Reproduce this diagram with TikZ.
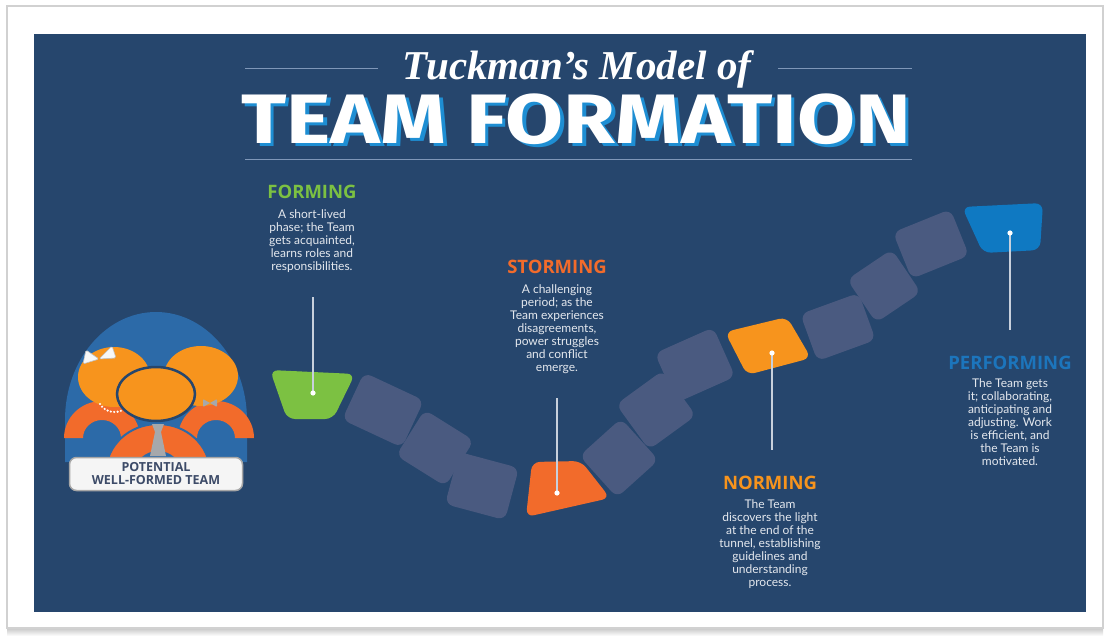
\documentclass[tikz,border=0pt]{standalone}
\usepackage{fontspec}
\setmainfont{Lato}
\newfontfamily\headfont{Open Sans}
\newfontfamily\titlefont{Fira Sans}
\newfontfamily\tuckfont{Liberation Serif}
\definecolor{panel}{HTML}{26466D}
\definecolor{tilegray}{HTML}{4A5A80}
\definecolor{formgreen}{HTML}{7CC142}
\definecolor{stormorange}{HTML}{F26B2B}
\definecolor{normorange}{HTML}{F7941D}
\definecolor{perfblue}{HTML}{1C75BC}
\definecolor{tileblue}{HTML}{0F79C2}
\definecolor{domeblue}{HTML}{2C6AA8}
\definecolor{headorange}{HTML}{F7941D}
\definecolor{bodyorange}{HTML}{F26B2B}
\definecolor{leaderline}{HTML}{C8D0DC}
\definecolor{bodytext}{HTML}{E4E8EE}
\definecolor{rulecolor}{HTML}{7F97B8}
\definecolor{shadowblue}{HTML}{1E8ED3}
\definecolor{tiegray}{HTML}{A6A8AB}
\definecolor{labeltext}{HTML}{3D4B68}
% white text with an offset blue copy behind it
\newcommand{\shadowtext}[1]{\makebox[0pt][l]{\hspace{3pt}\raisebox{-3pt}{\color{shadowblue}#1}}#1}

\begin{document}
\begin{tikzpicture}[x=1pt,y=-1pt,
    tile/.style={fill=tilegray, rounded corners=8pt},
    heading/.style={font=\headfont\bfseries\fontsize{18.5}{20}\selectfont, inner sep=0pt},
    blurb/.style={font=\fontsize{12}{13}\selectfont, text=bodytext, align=center, inner sep=0pt, anchor=north},
    leader/.style={draw=leaderline, line width=1.3pt},
    arch/.style={fill=bodyorange},
    bigtitle/.style={font=\titlefont\bfseries\fontsize{70}{70}\selectfont, xscale=1.2}]
  \useasboundingbox (0,0) rectangle (1110,636);
  % page and frame
  \fill[white] (0,0) rectangle (1110,636);
  \shade[top color=black!22, bottom color=white] (7,628) rectangle (1103,636);
  \draw[black!18, line width=1.2pt] (7,6) rectangle (1103,628);
  \fill[panel] (34,34) rectangle (1086,612);

  % title
  \draw[rulecolor, line width=1pt] (245,69) -- (378,69);
  \draw[rulecolor, line width=1pt] (778,69) -- (912,69);
  \draw[rulecolor, line width=1pt] (245,160) -- (912,160);
  \node[font=\tuckfont\bfseries\itshape\fontsize{41}{42}\selectfont, text=white] (subtitle) at (577,69) {Tuckman’s Model of};
  \node[bigtitle, text=white] (title) at (576,121) {\shadowtext{TEAM FORMATION}};

  % the path of tiles
  \foreach \cx/\cy/\ang/\hl/\ht in {383/410/-25/33/26, 435/448/-32/29/27, 482/486/-15/31/27,
      619/458/42/28/28, 656/410/36/29/28, 695/365/24/32/27,
      838/327/20/31/25, 884/286/34/27/26, 931/244/22/31/25}
    \fill[tile, shift={(\cx,\cy)}, rotate=\ang] (-\hl,-\ht) rectangle (\hl,\ht);
  \fill[tile, fill=formgreen] (270,370) -- (355,374) -- (333,419) -- (287,419) -- cycle;
  \fill[tile, fill=stormorange] (532,462) -- (581,461) -- (610,498) -- (526,517) -- cycle;
  \fill[tile, fill=normorange] (725,332) -- (787,317) -- (811,358) -- (747,375) -- cycle;
  \fill[tile, fill=tileblue] (962,207) -- (1043,203) -- (1040,250) -- (983,253) -- cycle;

  % stages
  \coordinate (formdot) at (313,393);
  \coordinate (formtop) at (313,297);
  \coordinate (stormdot) at (557,493);
  \coordinate (stormtop) at (557,398);
  \coordinate (normdot) at (772,353);
  \coordinate (normend) at (772,450);
  \coordinate (perfdot) at (1010,233);
  \coordinate (perfend) at (1010,330);
  \draw[leader] (formtop) -- (formdot);
  \draw[leader] (stormtop) -- (stormdot);
  \draw[leader] (normdot) -- (normend);
  \draw[leader] (perfdot) -- (perfend);
  \foreach \d in {formdot,stormdot,normdot,perfdot}
    \fill[white] (\d) circle (2.6pt);

  \node[heading, text=formgreen] (formhead) at (312,192) {FORMING};
  \node[blurb] (formtext) at (312,209) {A short-lived\\phase; the Team\\gets acquainted,\\learns roles and\\responsibilities.};
  \node[heading, text=stormorange] (stormhead) at (557,267) {STORMING};
  \node[blurb] (stormtext) at (557,284) {A challenging\\period; as the\\Team experiences\\disagreements,\\power struggles\\and conflict\\emerge.};
  \node[heading, text=normorange] (normhead) at (770,483) {NORMING};
  \node[blurb] (normtext) at (770,499) {The Team\\discovers the light\\at the end of the\\tunnel, establishing\\guidelines and\\understanding\\process.};
  \node[heading, text=perfblue] (perfhead) at (1010,363) {PERFORMING};
  \node[blurb] (perftext) at (1010,378) {The Team gets\\it; collaborating,\\anticipating and\\adjusting. Work\\is efficient, and\\the Team is\\motivated.};

  % the team
  \fill[domeblue] (65,462) -- (65,420) .. controls (65,360) and (106,312) .. (156,312)
    .. controls (206,312) and (247,360) .. (247,420) -- (247,462) -- cycle;
  \fill[arch] (64,438) arc[start angle=180, end angle=360, x radius=38, y radius=37]
    -- (121,438) arc[start angle=360, end angle=180, x radius=19, y radius=18] -- cycle;
  \fill[arch] (178,438) arc[start angle=180, end angle=360, x radius=38, y radius=37]
    -- (235,438) arc[start angle=360, end angle=180, x radius=19, y radius=18] -- cycle;
  \fill[headorange] (114,377) ellipse[x radius=36, y radius=30];
  \fill[headorange] (201,376) ellipse[x radius=37, y radius=30];
  \filldraw[arch, draw=domeblue, line width=2pt] (106,472) arc[start angle=180, end angle=360, x radius=52, y radius=48]
    -- (180,472) arc[start angle=360, end angle=180, x radius=22, y radius=20] -- cycle;
  \filldraw[fill=headorange, draw=panel, line width=2.5pt] (156,394) ellipse[x radius=39, y radius=27];
  % bow, pearls and ties
  \filldraw[fill=black!3, draw=black!25, line width=0.6pt, rounded corners=1.5pt]
    (99,359) -- (83,364) -- (86,350) -- cycle (99,359) -- (112,346) -- (116,358) -- cycle;
  \draw[white, line width=2.4pt, dash pattern=on 0pt off 3.4pt, line cap=round]
    (100,404) .. controls (105,412) and (115,414) .. (123,410);
  \fill[tiegray] (152,424) -- (164,424) -- (161,432) -- (166,456) -- (150,456) -- (155,432) -- cycle;
  \fill[tiegray, rounded corners=1pt] (203,399) -- (217,407) -- (217,399) -- (203,407) -- cycle;
  \node[fill=black!4, draw=black!35, line width=1.5pt, rounded corners=7pt, minimum width=173pt,
    minimum height=33pt, align=center, inner sep=0pt, text=labeltext,
    font=\headfont\bfseries\fontsize{12.5}{13}\selectfont] (teamlabel) at (156,474) {POTENTIAL\\WELL-FORMED TEAM};
\end{tikzpicture}
\end{document}
